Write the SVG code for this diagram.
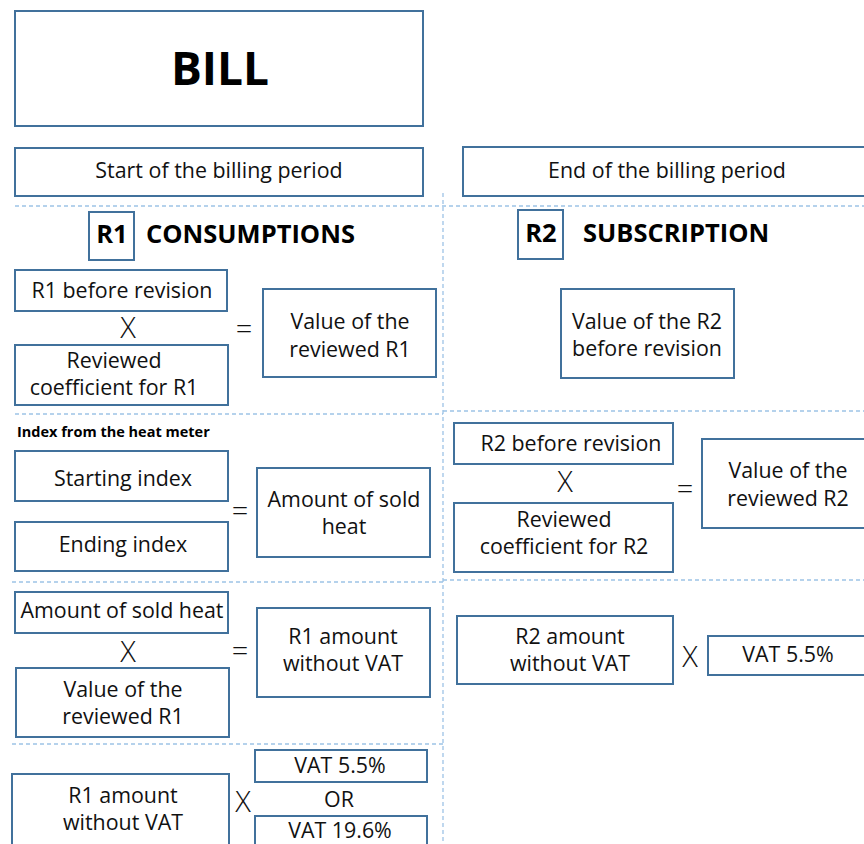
<svg xmlns="http://www.w3.org/2000/svg" width="864" height="844" viewBox="0 0 864 844">
<style>
.b{fill:#fff;stroke:#41719c;stroke-width:2}
.t{font-family:"Open Sans","Noto Sans",sans-serif;font-size:21.4px;fill:#111;text-anchor:middle}
.h{font-family:"Open Sans","Noto Sans",sans-serif;font-weight:bold;fill:#000}
.op{font-family:"Open Sans","Noto Sans",sans-serif;font-size:29px;font-weight:300;fill:#111;text-anchor:middle}
.d{stroke:#9dc3e6;stroke-width:1.3;stroke-dasharray:4 3;fill:none}
</style>
<rect width="864" height="844" fill="#fff"/>
<g id="separators">
<line class="d" x1="15" y1="206" x2="864" y2="206"/>
<line class="d" x1="443" y1="193" x2="443" y2="844"/>
<line class="d" x1="15" y1="414" x2="443" y2="414"/>
<line class="d" x1="443" y1="411" x2="864" y2="411"/>
<line class="d" x1="12" y1="582" x2="443" y2="582"/>
<line class="d" x1="443" y1="580" x2="864" y2="580"/>
<line class="d" x1="12" y1="744" x2="443" y2="744"/>
</g>
<g id="bill"><rect class="b" x="15" y="11" width="408" height="115"/><text class="h" x="220" y="85" font-size="46" text-anchor="middle">BILL</text></g>
<g id="start"><rect class="b" x="15" y="148" width="408" height="48"/><text class="t" x="219" y="178">Start of the billing period</text></g>
<g id="end"><rect class="b" x="463" y="147" width="410" height="49"/><text class="t" x="667" y="178">End of the billing period</text></g>
<g id="r1head"><rect class="b" x="89" y="212" width="45" height="48"/><text class="h" x="112" y="243" font-size="25.5" text-anchor="middle">R1</text><text class="h" x="146" y="243" font-size="25.5">CONSUMPTIONS</text></g>
<g id="r2head"><rect class="b" x="518" y="210" width="45" height="49"/><text class="h" x="541" y="242" font-size="25.5" text-anchor="middle">R2</text><text class="h" x="583" y="242" font-size="25.5">SUBSCRIPTION</text></g>
<g id="r1before"><rect class="b" x="15" y="270" width="212" height="41"/><text class="t" x="122" y="298">R1 before revision</text></g>
<g id="x1"><text class="op" x="128" y="338">X</text></g>
<g id="coefr1"><rect class="b" x="15" y="345" width="213" height="60"/><text class="t" x="114" y="368">Reviewed</text><text class="t" x="114" y="395">coefficient for R1</text></g>
<g id="eq1"><text class="op" x="244" y="339">=</text></g>
<g id="valr1"><rect class="b" x="263" y="289" width="173" height="88"/><text class="t" x="350" y="329">Value of the</text><text class="t" x="350" y="357">reviewed R1</text></g>
<g id="valr2before"><rect class="b" x="561" y="289" width="173" height="89"/><text class="t" x="647" y="329">Value of the R2</text><text class="t" x="647" y="356">before revision</text></g>
<g id="indexlabel"><text class="h" x="17" y="437" font-size="14.5">Index from the heat meter</text></g>
<g id="startidx"><rect class="b" x="15" y="451" width="213" height="50"/><text class="t" x="123" y="486">Starting index</text></g>
<g id="endidx"><rect class="b" x="15" y="522" width="213" height="49"/><text class="t" x="123" y="552">Ending index</text></g>
<g id="eq2"><text class="op" x="240" y="521">=</text></g>
<g id="soldheat"><rect class="b" x="257" y="468" width="173" height="89"/><text class="t" x="344" y="507">Amount of sold</text><text class="t" x="344" y="534">heat</text></g>
<g id="r2before"><rect class="b" x="454" y="423" width="219" height="41"/><text class="t" x="571" y="451">R2 before revision</text></g>
<g id="x2"><text class="op" x="565" y="492">X</text></g>
<g id="coefr2"><rect class="b" x="454" y="503" width="219" height="69"/><text class="t" x="564" y="527">Reviewed</text><text class="t" x="564" y="554">coefficient for R2</text></g>
<g id="eq3"><text class="op" x="685" y="499">=</text></g>
<g id="valr2"><rect class="b" x="702" y="439" width="172" height="89"/><text class="t" x="788" y="478">Value of the</text><text class="t" x="788" y="506">reviewed R2</text></g>
<g id="soldheat2"><rect class="b" x="15" y="592" width="213" height="41"/><text class="t" x="122" y="618">Amount of sold heat</text></g>
<g id="x3"><text class="op" x="128" y="662">X</text></g>
<g id="valr1b"><rect class="b" x="16" y="668" width="213" height="69"/><text class="t" x="123" y="697">Value of the</text><text class="t" x="123" y="724">reviewed R1</text></g>
<g id="eq4"><text class="op" x="240" y="661">=</text></g>
<g id="r1novat"><rect class="b" x="257" y="608" width="173" height="89"/><text class="t" x="343" y="644">R1 amount</text><text class="t" x="343" y="671">without VAT</text></g>
<g id="r2novat"><rect class="b" x="457" y="616" width="216" height="68"/><text class="t" x="570" y="644">R2 amount</text><text class="t" x="570" y="671">without VAT</text></g>
<g id="x4"><text class="op" x="690" y="667">X</text></g>
<g id="vat55r2"><rect class="b" x="708" y="636" width="166" height="39"/><text class="t" x="788" y="662">VAT 5.5%</text></g>
<g id="r1novat2"><rect class="b" x="12" y="774" width="217" height="80"/><text class="t" x="123" y="803">R1 amount</text><text class="t" x="123" y="830">without VAT</text></g>
<g id="x5"><text class="op" x="243" y="812">X</text></g>
<g id="vat55r1"><rect class="b" x="255" y="750" width="172" height="32"/><text class="t" x="340" y="773">VAT 5.5%</text></g>
<g id="or"><text class="t" x="339" y="807">OR</text></g>
<g id="vat196"><rect class="b" x="255" y="816" width="172" height="40"/><text class="t" x="340" y="838">VAT 19.6%</text></g>
</svg>
